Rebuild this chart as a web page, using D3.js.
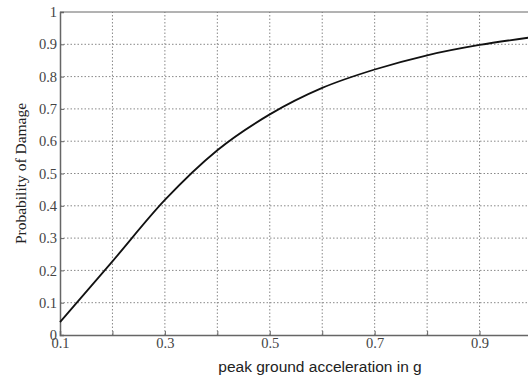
<!DOCTYPE html>
<html>
<head>
<meta charset="UTF-8">
<script src="https://d3js.org/d3.v7.min.js"></script>
<style>
  body { margin: 0; background: #fff; }
</style>
</head>
<body>
<svg id="chart"></svg>
<script>
// fragility curve
const pga = [0.1, 0.2, 0.3, 0.4, 0.5, 0.6, 0.7, 0.8, 0.9, 1.0];
const probDamage = [0.04, 0.228, 0.418, 0.572, 0.683, 0.765, 0.822, 0.866, 0.898, 0.922];
const xTickLabels = [0.1, 0.3, 0.5, 0.7, 0.9];
const yTicks = [0, 0.1, 0.2, 0.3, 0.4, 0.5, 0.6, 0.7, 0.8, 0.9, 1];

const W = 528, H = 383;
const margin = {top: 12, left: 60, bottom: 48};
const plotRight = 532;

const svg = d3.select("#chart").attr("width", W).attr("height", H);

const x = d3.scaleLinear().domain([0.1, 1.0]).range([margin.left, plotRight]);
const y = d3.scaleLinear().domain([0, 1]).range([H - margin.bottom, margin.top]);

const grey = "#444";

// grid
const grid = svg.append("g").attr("stroke", "#888").attr("stroke-width", 1)
  .attr("stroke-dasharray", "1.5,2");
grid.selectAll(".vg").data(pga.slice(1)).enter().append("line")
  .attr("x1", d => x(d)).attr("x2", d => x(d))
  .attr("y1", y(0)).attr("y2", y(1));
grid.selectAll(".hg").data(yTicks.slice(1, -1)).enter().append("line")
  .attr("x1", x(0.1)).attr("x2", plotRight)
  .attr("y1", d => y(d)).attr("y2", d => y(d));

// frame top, right side is cut off by the window
svg.append("line").attr("x1", x(0.1)).attr("x2", plotRight)
  .attr("y1", y(1)).attr("y2", y(1)).attr("stroke", "#666");

// axes
const xAxis = svg.append("g")
  .attr("transform", `translate(0,${y(0)})`)
  .call(d3.axisBottom(x).tickValues(pga).tickSize(-4).tickPadding(4)
    .tickFormat(d => xTickLabels.some(v => Math.abs(v - d) < 1e-9) ? d3.format(".1f")(d) : ""));
const yAxis = svg.append("g")
  .attr("transform", `translate(${x(0.1)},0)`)
  .call(d3.axisLeft(y).tickValues(yTicks).tickSize(-4).tickPadding(3)
    .tickFormat(d => d === 0 || d === 1 ? d3.format("d")(d) : d3.format(".1f")(d)));

[xAxis, yAxis].forEach(a => {
  a.select(".domain").attr("stroke", "#666").attr("stroke-width", 1.5);
  a.selectAll(".tick line").attr("stroke", "#666");
  a.selectAll("text").attr("font-family", "Liberation Serif, serif")
    .attr("font-size", 14.5).attr("fill", grey);
});
xAxis.selectAll("text").attr("dy", "0.6em");

// curve
svg.append("path")
  .datum(pga.map((d, i) => [d, probDamage[i]]))
  .attr("fill", "none").attr("stroke", "#111").attr("stroke-width", 1.8)
  .attr("d", d3.line().x(d => x(d[0])).y(d => y(d[1])).curve(d3.curveMonotoneX));

// labels
svg.append("text")
  .attr("transform", `translate(26, ${(y(0) + y(1)) / 2}) rotate(-90)`)
  .attr("text-anchor", "middle")
  .attr("font-family", "Liberation Serif, serif").attr("font-size", 15.5)
  .attr("fill", "#222")
  .text("Probability of Damage");

svg.append("text")
  .attr("x", 320).attr("y", 372)
  .attr("text-anchor", "middle")
  .attr("font-family", "Liberation Sans, Arial, sans-serif").attr("font-size", 15.5)
  .attr("fill", "#222")
  .text("peak ground acceleration in g");
</script>
</body>
</html>
